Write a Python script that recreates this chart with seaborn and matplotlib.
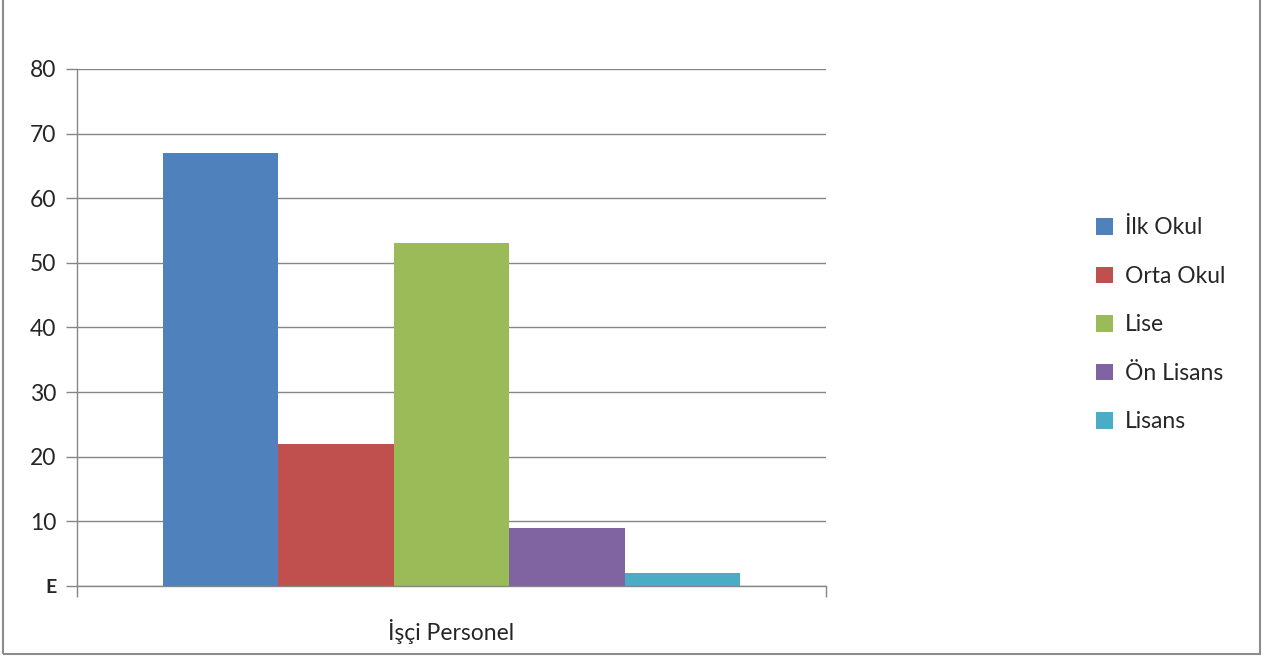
import numpy as np
import pandas as pd
import seaborn as sns
import matplotlib
matplotlib.use('Agg')
import matplotlib.pyplot as plt
from matplotlib.patches import Rectangle

# ---------------- data ----------------
group_name = ['İşçi Personel']
levels = ['İlk Okul', 'Orta Okul', 'Lise', 'Ön Lisans', 'Lisans']
counts = [67, 22, 53, 9, 2]
colors = ['#4F81BD', '#C0504D', '#9BBB59', '#8064A2', '#4BACC6']
y_ticks = [0, 10, 20, 30, 40, 50, 60, 70, 80]
y_tick_labels = ['E', '10', '20', '30', '40', '50', '60', '70', '80']

df = pd.DataFrame({'grup': group_name * len(levels), 'egitim': levels, 'sayi': counts})

sns.set_style('white')
plt.rcParams['font.family'] = ['Lato', 'DejaVu Sans']
grid_col = '#868686'

fig = plt.figure(figsize=(12.64, 6.59), dpi=100)
ax = fig.add_axes([0.0609, 0.1108, 0.5926, 0.7845])

sns.barplot(data=df, x='grup', y='sayi', hue='egitim', hue_order=levels,
            palette=colors, width=0.77, saturation=1, ax=ax, gap=0,
            linewidth=0, edgecolor='none')

ax.set_ylim(0, 80)
ax.set_xlim(-0.5, 0.5)
ax.set_yticks(y_ticks)
ax.set_yticklabels(y_tick_labels, fontsize=16.5)
# the "E" at zero is drawn smaller and bold in the original
ax.get_yticklabels()[0].set_fontsize(14)
ax.get_yticklabels()[0].set_fontweight('bold')
ax.yaxis.grid(True, color=grid_col, linewidth=1)
ax.set_axisbelow(True)
ax.tick_params(axis='y', length=8, color=grid_col, width=1, pad=7, left=True)

ax.set_xticks([0])
ax.set_xticklabels(group_name, fontsize=16.5)
ax.set_xticks([-0.5, 0.5], minor=True)
ax.tick_params(axis='x', which='major', length=0, pad=24)
ax.tick_params(axis='x', which='minor', length=8, color=grid_col, width=1, bottom=True)
ax.set_xlabel('')
ax.set_ylabel('')

for s in ['top', 'right']:
    ax.spines[s].set_visible(False)
for s in ['left', 'bottom']:
    ax.spines[s].set_color(grid_col)
    ax.spines[s].set_linewidth(1)

leg = ax.legend(loc='center left', bbox_to_anchor=(1.333, 0.505), frameon=False,
                fontsize=16.5, handlelength=0.75, handleheight=0.75,
                labelspacing=1.2, handletextpad=0.5)
for h in leg.legend_handles:
    h.set_edgecolor('none')

# outer chart border
fig.patches.append(Rectangle((3 / 1264, 5 / 659), 1257 / 1264, 1.1,
                             transform=fig.transFigure, fill=False,
                             edgecolor='#8c8c8c', linewidth=1.5))

plt.savefig('out.png', dpi=100)
